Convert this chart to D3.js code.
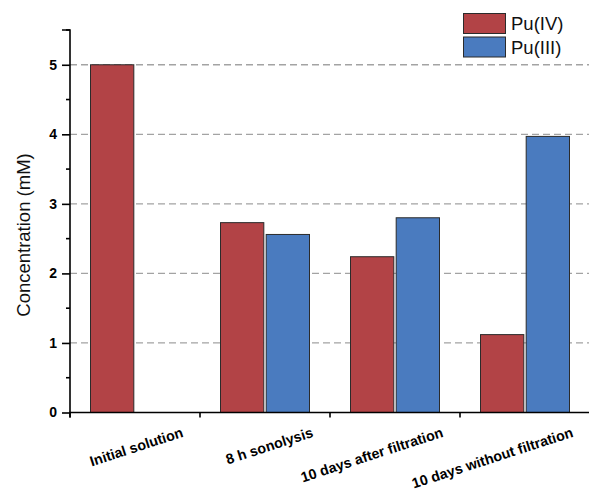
<!DOCTYPE html>
<html>
<head>
<meta charset="utf-8">
<script src="https://cdn.jsdelivr.net/npm/d3@7"></script>
<style>
  html, body { margin: 0; padding: 0; background: #fff; }
  svg { display: block; font-family: "Liberation Sans", Arial, sans-serif; }
</style>
</head>
<body>
<svg id="chart" width="589" height="501"></svg>
<script>
const categories = ["Initial solution", "8 h sonolysis", "10 days after filtration", "10 days without filtration"];
const seriesNames = ["Pu(IV)", "Pu(III)"];
const puIV = [5.0, 2.73, 2.24, 1.12];
const puIII = [0, 2.56, 2.80, 3.97];
const yTicks = [0, 1, 2, 3, 4, 5];
const yMinorTicks = [0.5, 1.5, 2.5, 3.5, 4.5, 5.5];
const colors = ["#b24346", "#4a7bbf"];

const svg = d3.select("#chart");
const mLeft = 70, mRight = 590, mTop = 30, mBottom = 412.5;

const x0 = d3.scaleBand().domain(categories).range([mLeft, mRight])
  .paddingInner(40 / 130).paddingOuter(20 / 130);
const x1 = d3.scaleBand().domain(seriesNames).range([0, x0.bandwidth()]).paddingInner(0.03);
const y = d3.scaleLinear().domain([0, 5.5]).range([mBottom, mTop]);

// grid lines
svg.append("g").selectAll("line").data(yTicks.filter(d => d > 0)).join("line")
  .attr("x1", mLeft).attr("x2", 589)
  .attr("y1", d => y(d)).attr("y2", d => y(d))
  .attr("stroke", "#a3a3a3").attr("stroke-width", 1.3)
  .attr("stroke-dasharray", "7,4");

// bars
const rows = categories.map((c, i) => ({ c, vals: [puIV[i], puIII[i]] }));
const g = svg.append("g");
rows.forEach(r => {
  r.vals.forEach((v, j) => {
    if (v <= 0) return;
    g.append("rect")
      .attr("x", x0(r.c) + x1(seriesNames[j]) + 0.5)
      .attr("y", y(v))
      .attr("width", x1.bandwidth() - 1)
      .attr("height", y(0) - y(v))
      .attr("fill", colors[j])
      .attr("stroke", "#2b2b2b")
      .attr("stroke-width", 1);
  });
});

// y axis
const yAxis = d3.axisLeft(y).tickValues(yTicks).tickSize(8).tickPadding(5).tickFormat(d3.format("d"));
const ya = svg.append("g").attr("transform", `translate(${mLeft},0)`).call(yAxis);
ya.select(".domain").attr("d", `M-8,${y(5.5)}H0V${mBottom + 5}`).attr("stroke", "#000").attr("stroke-width", 1.6).attr("fill", "none");
ya.selectAll(".tick line").attr("stroke", "#000").attr("stroke-width", 1.6);
ya.selectAll(".tick text").attr("font-size", 14).attr("font-weight", "bold").attr("fill", "#000")
  .attr("font-family", "'Liberation Sans', Arial, sans-serif");
// minor ticks
ya.append("g").selectAll("line").data(yMinorTicks).join("line")
  .attr("x1", -4).attr("x2", 0).attr("y1", d => y(d)).attr("y2", d => y(d))
  .attr("stroke", "#000").attr("stroke-width", 1.6);

// x axis
svg.append("line").attr("x1", mLeft - 1).attr("x2", 589).attr("y1", mBottom).attr("y2", mBottom)
  .attr("stroke", "#000").attr("stroke-width", 1.6);
const boundaries = [mLeft].concat(categories.map(c => x0(c) + x0.bandwidth() + x0.step() * x0.paddingInner() / 2));
svg.append("g").selectAll("line").data(boundaries).join("line")
  .attr("x1", d => d).attr("x2", d => d).attr("y1", mBottom).attr("y2", mBottom + 5)
  .attr("stroke", "#000").attr("stroke-width", 1.6);

// x labels
svg.append("g").selectAll("text").data(categories).join("text")
  .attr("transform", c => `translate(${x0(c) + x0.bandwidth() / 2 + 49},${mBottom + 24}) rotate(-18)`)
  .attr("text-anchor", "end")
  .attr("font-size", 14.3).attr("font-weight", "bold").attr("fill", "#000")
  .text(c => c);

// y label
svg.append("text")
  .attr("transform", `translate(30,235) rotate(-90)`)
  .attr("text-anchor", "middle")
  .attr("font-size", 18.5).attr("fill", "#111")
  .text("Concentration (mM)");

// legend
const lg = svg.append("g");
seriesNames.forEach((s, i) => {
  lg.append("rect").attr("x", 463.5).attr("y", 13.5 + i * 23.5).attr("width", 42).attr("height", 20)
    .attr("fill", colors[i]).attr("stroke", "#2b2b2b").attr("stroke-width", 1);
  lg.append("text").attr("x", 511).attr("y", 30 + i * 23.5)
    .attr("font-size", 18.5).attr("fill", "#111").text(s);
});
</script>
</body>
</html>
